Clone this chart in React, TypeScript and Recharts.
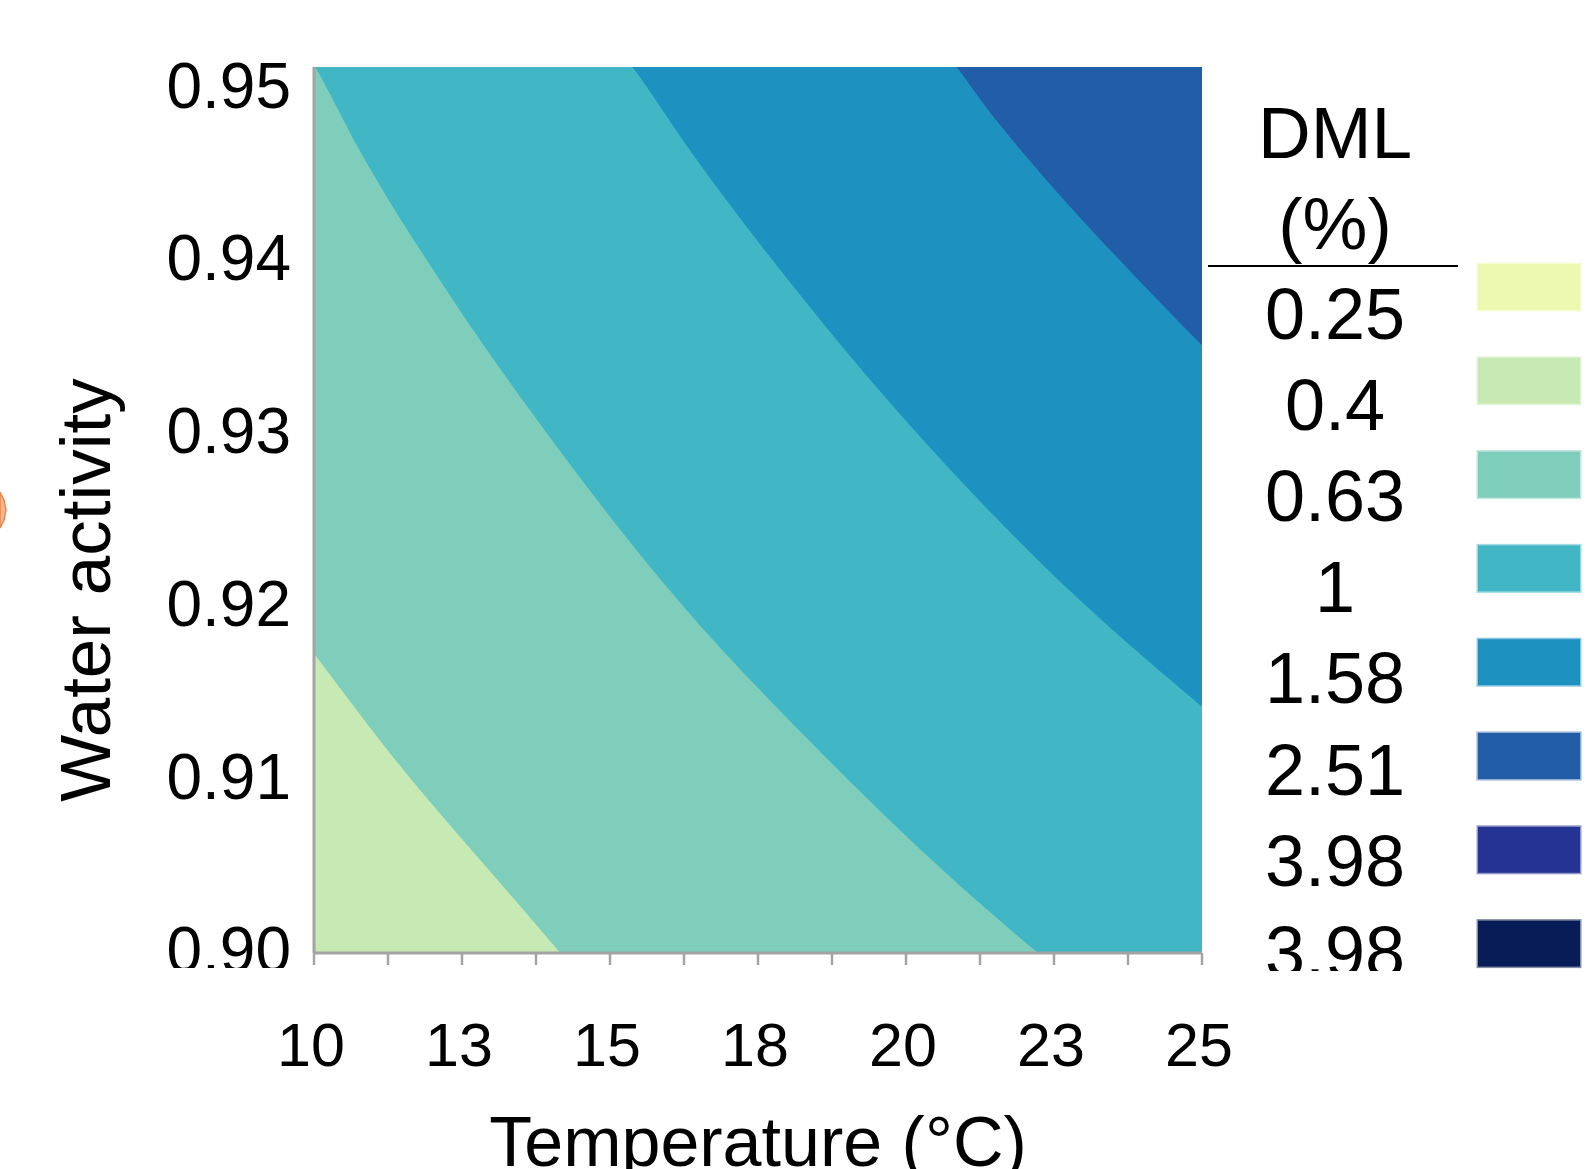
import React from 'react';
import { ComposedChart, Area, XAxis, YAxis } from 'recharts';

const FONT = '"Liberation Sans", Arial, Helvetica, sans-serif';
const GRAY = '#A4A4A4';

// ---- axis ticks ----
const tempTicks = [10, 11.25, 12.5, 13.75, 15, 16.25, 17.5, 18.75, 20, 21.25, 22.5, 23.75, 25];
const tempLabelTicks = [10, 12.5, 15, 17.5, 20, 22.5, 25];
const tempTickLabels = ['10', '13', '15', '18', '20', '23', '25'];
const awTicks = [0.9, 0.91, 0.92, 0.93, 0.94, 0.95];

// ---- contour boundaries (temperature °C, water activity) ----
// (end points lie just outside the plotted window so the curves run smoothly to the frame)
// lowest visible band fills the whole plot
const band040T = [9, 26];
const band040Aw = [0.89, 0.89];
// boundary above which DML >= 0.63
const band063T = [9.57, 10, 11.23, 13.39, 14.16, 16.32, 26];
const band063Aw = [0.9188, 0.9169, 0.9115, 0.903, 0.9, 0.8917, 0.8917];
// boundary above which DML >= 1
const band1T = [9.63, 10.02, 10.77, 12.34, 14.14, 16.15, 18.51, 21.18, 22.23, 25.34];
const band1Aw = [0.9521, 0.95, 0.9453, 0.9369, 0.9284, 0.9199, 0.9115, 0.903, 0.9, 0.8917];
// boundary above which DML >= 1.58
const band158T = [14.88, 15.38, 16.35, 18.27, 20.44, 22.94, 25, 26.08];
const band158Aw = [0.9521, 0.95, 0.9453, 0.9369, 0.9284, 0.9199, 0.9139, 0.9109];
// boundary above which DML >= 2.51
const band251T = [20.4, 20.86, 21.45, 21.94, 24.24, 25, 25.93];
const band251Aw = [0.9521, 0.95, 0.9473, 0.9453, 0.9369, 0.9343, 0.9312];

const bandColors = ['#C7E9B4', '#7FCDBB', '#41B6C4', '#1D91C0', '#225EA8'];

// ---- legend ----
const legendLabels = ['0.25', '0.4', '0.63', '1', '1.58', '2.51', '3.98', '3.98'];
const legendColors = ['#EDF8B1', '#C7E9B4', '#7FCDBB', '#41B6C4', '#1D91C0', '#225EA8', '#253494', '#081D58'];

const bands = [
  { t: band040T, aw: band040Aw },
  { t: band063T, aw: band063Aw },
  { t: band1T, aw: band1Aw },
  { t: band158T, aw: band158Aw },
  { t: band251T, aw: band251Aw },
].map((b, i) => ({
  color: bandColors[i],
  data: b.t.map((t, j) => ({ t, aw: b.aw[j] })),
}));

const PLOT_TOP = 67;
const PLOT_BOTTOM = 953;
const PLOT_H = PLOT_BOTTOM - PLOT_TOP;

const renderXTick = (props: any) => {
  const { x, y, payload } = props;
  const idx = tempLabelTicks.indexOf(payload.value);
  if (idx < 0) return <g />;
  return (
    <text
      x={x - 3}
      y={y + 101}
      textAnchor="middle"
      fontFamily={FONT}
      fontSize={61}
      fill="#000"
    >
      {tempTickLabels[idx]}
    </text>
  );
};

const renderYTick = (props: any) => {
  const { x, y, payload, index } = props;
  const shift = -3 + (21.5 * (PLOT_BOTTOM - y)) / PLOT_H;
  const id = `ytick-clip-${index}`;
  return (
    <g>
      <defs>
        <clipPath id={id}>
          <rect x={0} y={0} width={320} height={968} />
        </clipPath>
      </defs>
      <text
        x={x}
        y={y + shift + 22}
        textAnchor="end"
        fontFamily={FONT}
        fontSize={64}
        fill="#000"
        clipPath={`url(#${id})`}
      >
        {Number(payload.value).toFixed(2)}
      </text>
    </g>
  );
};

const renderXTitle = (props: any) => {
  const vb = props.viewBox || { x: 314, y: 953, width: 888 };
  return (
    <text
      x={vb.x + vb.width / 2}
      y={vb.y + 213}
      textAnchor="middle"
      fontFamily={FONT}
      fontSize={70}
      fill="#000"
    >
      Temperature (°C)
    </text>
  );
};

const renderYTitle = (props: any) => {
  const vb = props.viewBox || { x: 0, y: 67, height: 886 };
  const cx = 110;
  const cy = vb.y + vb.height / 2 + 80;
  return (
    <text
      transform={`translate(${cx},${cy}) rotate(-90)`}
      textAnchor="middle"
      fontFamily={FONT}
      fontSize={71}
      fill="#000"
    >
      Water activity
    </text>
  );
};

const Legend = () => (
  <svg
    width={1590}
    height={1169}
    style={{ position: 'absolute', left: 0, top: 0, pointerEvents: 'none' }}
  >
    <defs>
      <clipPath id="legend-clip">
        <rect x={0} y={0} width={1590} height={971} />
      </clipPath>
    </defs>
    <text x={1335} y={158} textAnchor="middle" fontFamily={FONT} fontSize={73} fill="#000">
      DML
    </text>
    <text x={1335} y={249} textAnchor="middle" fontFamily={FONT} fontSize={73} fill="#000">
      (%)
    </text>
    <line x1={1208} x2={1458} y1={266} y2={266} stroke="#000" strokeWidth={2} />
    <g clipPath="url(#legend-clip)">
      {legendLabels.map((lab, i) => (
        <g key={i}>
          <text
            x={1335}
            y={339 + i * 91.1}
            textAnchor="middle"
            fontFamily={FONT}
            fontSize={72}
            fill="#000"
          >
            {lab}
          </text>
          <rect
            x={1478}
            y={264 + i * 93.8}
            width={102}
            height={46}
            fill={legendColors[i]}
            stroke={legendColors[i]}
            strokeOpacity={0.5}
            strokeWidth={3}
          />
        </g>
      ))}
    </g>
    <polygon
      points="0,492 4,500 6,510 4,520 0,528"
      fill="#F6B593"
      stroke="#E8894F"
      strokeWidth={1.5}
    />
  </svg>
);

export default function App() {
  return (
    <div
      style={{
        position: 'absolute',
        left: 0,
        top: 0,
        width: 1590,
        height: 1169,
        overflow: 'hidden',
        background: '#fff',
      }}
    >
      <ComposedChart
        width={1590}
        height={1169}
        margin={{ top: PLOT_TOP, right: 388, bottom: 0, left: 0 }}
      >
        {bands.map((b, i) => (
          <Area
            key={i}
            data={b.data}
            dataKey="aw"
            type="monotone"
            baseValue="dataMax"
            fill={b.color}
            fillOpacity={1}
            stroke="none"
            dot={false}
            activeDot={false}
            isAnimationActive={false}
          />
        ))}
        <XAxis
          dataKey="t"
          type="number"
          domain={[10, 25]}
          ticks={tempTicks}
          interval={0}
          allowDataOverflow
          height={216}
          tickSize={12}
          tickMargin={0}
          axisLine={{ stroke: GRAY, strokeWidth: 3 }}
          tickLine={{ stroke: GRAY, strokeWidth: 2.5 }}
          tick={renderXTick}
          label={renderXTitle}
        />
        <XAxis
          xAxisId="top"
          orientation="top"
          dataKey="t"
          type="number"
          domain={[10, 25]}
          height={0}
          tick={false}
          tickLine={false}
          axisLine={{ stroke: GRAY, strokeWidth: 3 }}
        />
        <YAxis
          type="number"
          domain={[0.9, 0.95]}
          ticks={awTicks}
          interval={0}
          allowDataOverflow
          width={314}
          tickSize={0}
          tickMargin={23}
          tickLine={false}
          axisLine={{ stroke: GRAY, strokeWidth: 3 }}
          tick={renderYTick}
          label={renderYTitle}
        />
        <YAxis
          yAxisId="right"
          orientation="right"
          type="number"
          domain={[0.9, 0.95]}
          width={0}
          tick={false}
          tickLine={false}
          axisLine={{ stroke: GRAY, strokeWidth: 3 }}
        />
      </ComposedChart>
      <Legend />
    </div>
  );
}
